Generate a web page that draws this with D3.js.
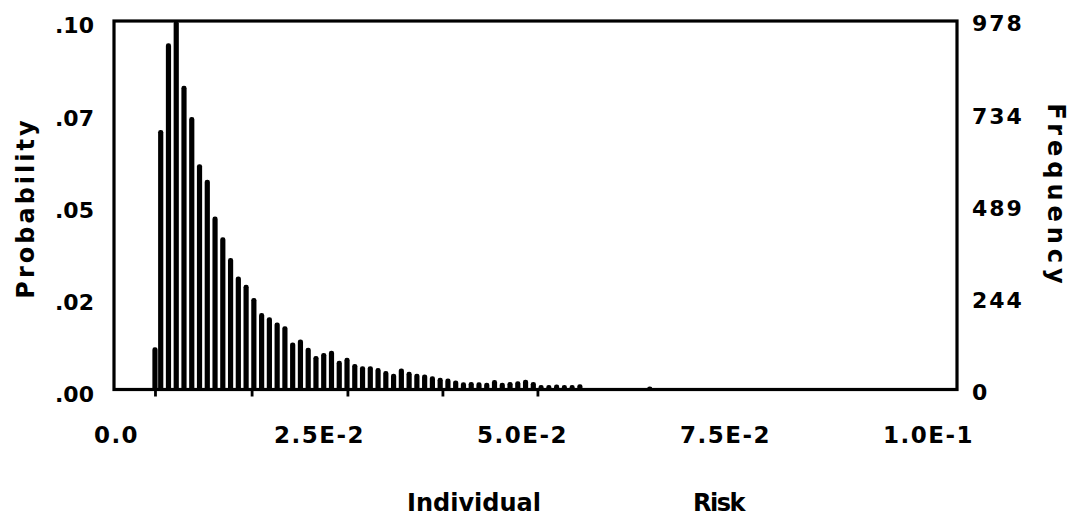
<!DOCTYPE html>
<html>
<head>
<meta charset="utf-8">
<script src="https://cdn.jsdelivr.net/npm/d3@7"></script>
<style>
  html, body { margin: 0; padding: 0; background: #fff; }
  svg { display: block; }
</style>
</head>
<body>
<svg id="chart" width="1080" height="516"></svg>
<script>
// ---------------- data ----------------
const probTicks   = [0, 0.025, 0.05, 0.075, 0.1];
const probLabels  = [".00", ".02", ".05", ".07", ".10"];
const freqTicks   = [0, 244.5, 489, 733.5, 978];
const freqLabels  = ["0", "244", "489", "734", "978"];
const riskTicks   = [0, 0.025, 0.05, 0.075, 0.1];
const riskLabels  = ["0.0", "2.5E-2", "5.0E-2", "7.5E-2", "1.0E-1"];
const minorRiskTicks = [0.0048, 0.0167, 0.0285, 0.0402, 0.0519];

// first (partial) bin
const firstBinRisk = 0.0048;
const firstBinFreq = 112;
// regular bins: start and width (risk units)
const binStart = 0.005506;
const binWidth = 0.000956;
// frequencies (max 978 = probability .10)
const frequencies = [
  689, 919, 978, 806, 723, 598, 557, 459, 404, 349,
  300, 278, 243, 203, 192, 178, 168, 125, 133, 111,
   89,  97, 103,  76,  84,  68,  62,  62,  57,  49,
   42,  56,  47,  42,  40,  35,  31,  29,  24,  19,
   20,  19,  18,  25,  18,  20,  22,  26,  20,  12,
   12,  13,  12,  12,  14,   4,   3,   3,   2,   2,
    3,   2,   2,   8
];
const freqMax = 978;
const probMax = 0.1;

// ---------------- layout ----------------
const frame = { left: 114, right: 957, top: 21, bottom: 389.5 };
const svg = d3.select("#chart");

const x = d3.scaleLinear().domain([0, 0.1]).range([116, 928]);
const yFreq = d3.scaleLinear().domain([0, freqMax]).range([frame.bottom, frame.top]);
const yProb = d3.scaleLinear().domain([0, probMax]).range([frame.bottom, frame.top]);

const bars = [{ risk: firstBinRisk, freq: firstBinFreq }]
  .concat(frequencies.map((f, i) => ({ risk: binStart + i * binWidth, freq: f })));

const barW = 5.2;
svg.append("g").selectAll("rect")
  .data(bars)
  .enter().append("rect")
  .attr("x", d => x(d.risk) - barW / 2)
  .attr("y", d => yFreq(d.freq))
  .attr("width", barW)
  .attr("height", d => frame.bottom - yFreq(d.freq) + 1)
  .attr("rx", 2.4)
  .attr("fill", "#000");

// frame
svg.append("rect")
  .attr("x", frame.left).attr("y", frame.top)
  .attr("width", frame.right - frame.left)
  .attr("height", frame.bottom - frame.top)
  .attr("fill", "none")
  .attr("stroke", "#000")
  .attr("stroke-width", 3.2);

const fontFam = "'DejaVu Sans', 'Noto Sans', sans-serif";

// bottom minor ticks
const minorAxis = d3.axisBottom(x).tickValues(minorRiskTicks).tickSize(6).tickFormat("");
const gMinor = svg.append("g").attr("transform", `translate(0,${frame.bottom + 1})`).call(minorAxis);
gMinor.select(".domain").remove();
gMinor.selectAll("line").attr("stroke", "#000").attr("stroke-width", 2.8);

// bottom labels
const xAxis = d3.axisBottom(x).tickValues(riskTicks).tickSize(0)
  .tickFormat((d, i) => riskLabels[i]);
const gx = svg.append("g").attr("transform", `translate(0,${frame.bottom})`).call(xAxis);
gx.select(".domain").remove();
gx.selectAll("text")
  .attr("y", 53.5).attr("dy", "0")
  .attr("fill", "#000")
  .style("font-family", fontFam)
  .style("font-weight", "bold")
  .style("font-size", "23px")
  .style("letter-spacing", "1.5px");

// left axis (probability)
const yl = d3.axisLeft(yProb).tickValues(probTicks).tickSize(0).tickPadding(20)
  .tickFormat((d, i) => probLabels[i]);
const gyl = svg.append("g").attr("transform", `translate(${frame.left},0)`).call(yl);
gyl.select(".domain").remove();
gyl.selectAll("text")
  .attr("dy", "0.36em").attr("y", 4)
  .attr("fill", "#000")
  .style("font-family", fontFam)
  .style("font-weight", "bold")
  .style("font-size", "22px");

// right axis (frequency)
const yr = d3.axisRight(yFreq).tickValues(freqTicks).tickSize(0).tickPadding(15)
  .tickFormat((d, i) => freqLabels[i]);
const gyr = svg.append("g").attr("transform", `translate(${frame.right},0)`).call(yr);
gyr.select(".domain").remove();
gyr.selectAll("text")
  .attr("dy", "0.36em").attr("y", 2)
  .attr("fill", "#000")
  .style("font-family", fontFam)
  .style("font-weight", "bold")
  .style("font-size", "22px")
  .style("letter-spacing", "2px");

// axis titles
svg.append("text")
  .attr("transform", "translate(34,208) rotate(-90)")
  .attr("text-anchor", "middle")
  .style("font-family", fontFam).style("font-weight", "bold")
  .style("font-size", "24px").style("letter-spacing", "3px")
  .text("Probability");

svg.append("text")
  .attr("transform", "translate(1048,196) rotate(90)")
  .attr("text-anchor", "middle")
  .style("font-family", fontFam).style("font-weight", "bold")
  .style("font-size", "24px").style("letter-spacing", "5px")
  .text("Frequency");

svg.append("text")
  .attr("x", 407).attr("y", 511)
  .style("font-family", fontFam).style("font-weight", "bold")
  .style("font-size", "24px")
  .text("Individual");

svg.append("text")
  .attr("x", 693).attr("y", 511)
  .style("font-family", fontFam).style("font-weight", "bold")
  .style("font-size", "24px").style("letter-spacing", "-1.5px")
  .text("Risk");
</script>
</body>
</html>
